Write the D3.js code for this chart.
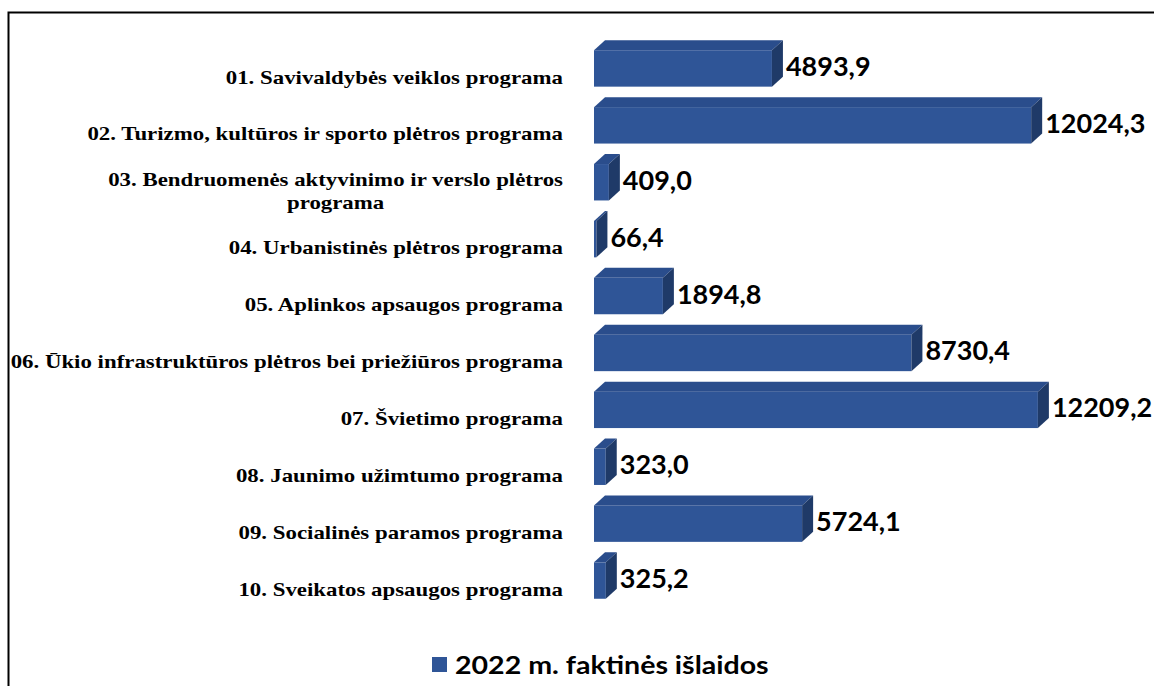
<!DOCTYPE html>
<html lang="lt">
<head>
<meta charset="UTF-8">
<title>2022 m. faktinės išlaidos</title>
<style>
  body { margin: 0; background: #fff; }
  .cat { font-family: "Liberation Serif", "Times New Roman", serif; font-weight: bold; font-size: 18px; fill: #000; }
  .val { font-family: Lato, "Open Sans", sans-serif; font-weight: bold; font-size: 27px; fill: #000; }
  .legend text { font-family: Lato, "Open Sans", sans-serif; font-weight: bold; font-size: 24px; fill: #000; }
</style>
</head>
<body>
<svg id="chart" width="1154" height="686"></svg>
<script src="https://cdn.jsdelivr.net/npm/d3@7"></script>
<script>
// programų pavadinimai (\n = eilutės lūžis kaip originale)
var categories = [
  "01. Savivaldybės veiklos programa",
  "02. Turizmo, kultūros ir sporto plėtros programa",
  "03. Bendruomenės aktyvinimo ir verslo plėtros\nprograma",
  "04. Urbanistinės plėtros programa",
  "05. Aplinkos apsaugos programa",
  "06. Ūkio infrastruktūros plėtros bei priežiūros programa",
  "07. Švietimo programa",
  "08. Jaunimo užimtumo programa",
  "09. Socialinės paramos programa",
  "10. Sveikatos apsaugos programa"
];
var values = [4893.9, 12024.3, 409.0, 66.4, 1894.8, 8730.4, 12209.2, 323.0, 5724.1, 325.2];
var seriesName = "2022 m. faktinės išlaidos";

var svg = d3.select('#chart');

// rėmelis (dešinė ir apačia nukirptos)
svg.append('rect')
  .attr('x', 8.5).attr('y', 12.5)
  .attr('width', 1300).attr('height', 800)
  .attr('fill', 'none').attr('stroke', '#000').attr('stroke-width', 2);

var x = d3.scaleLinear().domain([0, 14000]).range([594, 1103]);
var y = d3.scaleBand().domain(categories).range([40, 609])
  .paddingInner(0.36).paddingOuter(0.18);

var dx = 11, dy = 10;
var frontCol = '#2f5597', topCol = '#2a4d8c', sideCol = '#1f3a68';
var fmt = d3.format('.1f');

var g = svg.selectAll('g.bar')
  .data(categories.map(function (c, i) { return { cat: c, v: values[i] }; }))
  .enter().append('g').attr('class', 'bar');

// priekinė sienelė
g.append('rect')
  .attr('x', x(0))
  .attr('y', function (d) { return y(d.cat); })
  .attr('width', function (d) { return x(d.v) - x(0); })
  .attr('height', y.bandwidth())
  .attr('fill', frontCol);

// viršus
g.append('polygon')
  .attr('fill', topCol)
  .attr('points', function (d) {
    var x0 = x(0), x1 = x(d.v), y0 = y(d.cat);
    return [[x0, y0], [x0 + dx, y0 - dy], [x1 + dx, y0 - dy], [x1, y0]].join(' ');
  });

// šonas
g.append('polygon')
  .attr('fill', sideCol)
  .attr('points', function (d) {
    var x1 = x(d.v), y0 = y(d.cat), h = y.bandwidth();
    return [[x1, y0], [x1 + dx, y0 - dy], [x1 + dx, y0 + h - dy], [x1, y0 + h]].join(' ');
  });

// reikšmės
g.append('text')
  .attr('class', 'val')
  .attr('x', function (d) { return x(d.v) + dx + 3; })
  .attr('y', function (d) { return y(d.cat) + y.bandwidth() / 2 - 3; })
  .attr('dominant-baseline', 'central')
  .text(function (d) { return fmt(d.v).replace('.', ','); });

// kategorijų pavadinimai (originale tekstas ištemptas horizontaliai)
var labelRight = 563, lineH = 23, stretch = 1.27;
g.each(function (d) {
  var lines = d.cat.split('\n');
  var cy = y(d.cat) + y.bandwidth() / 2 + 9;
  var t = d3.select(this).append('text')
    .attr('class', 'cat')
    .attr('text-anchor', 'middle')
    .attr('transform', 'translate(' + labelRight + ',0) scale(' + stretch + ',1)');
  lines.forEach(function (l, i) {
    t.append('tspan')
      .attr('y', cy + (i - (lines.length - 1) / 2) * lineH)
      .attr('dominant-baseline', 'central')
      .text(l);
  });
  var w = d3.max(t.selectAll('tspan').nodes(), function (n) { return n.getComputedTextLength(); });
  t.selectAll('tspan').attr('x', -w / 2);
});

// legenda
var leg = svg.append('g').attr('class', 'legend');
leg.append('rect')
  .attr('x', 432).attr('y', 657).attr('width', 15).attr('height', 15)
  .attr('fill', frontCol);
leg.append('text')
  .attr('transform', 'translate(455,665) scale(1.19,1)')
  .attr('dominant-baseline', 'central')
  .text(seriesName);
</script>
</body>
</html>
